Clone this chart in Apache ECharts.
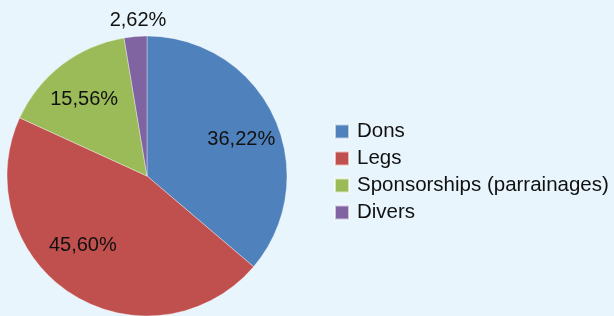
<!DOCTYPE html>
<html>
<head>
<meta charset="utf-8">
<script src="https://cdn.jsdelivr.net/npm/echarts@6/dist/echarts.min.js"></script>
<style>
html,body{margin:0;padding:0;background:#E9F5FC;}
#c{width:614px;height:316px;}
</style>
</head>
<body>
<div id="c"></div>
<script>
var categories = ['Dons', 'Legs', 'Sponsorships (parrainages)', 'Divers'];
var values = [36.22, 45.60, 15.56, 2.62];
var colors = ['#4F81BD', '#C0504D', '#9BBB59', '#8064A2'];
var labelShift = [[28, -6], [-25, 8], [-18.5, -19], [-3, -83]];

var chart = echarts.init(document.getElementById('c'), null, {renderer: 'canvas'});
chart.setOption({
  backgroundColor: '#E9F5FC',
  animation: false,
  color: colors,
  legend: {
    orient: 'vertical',
    left: 329,
    top: 116,
    icon: 'rect',
    itemWidth: 14,
    itemHeight: 14,
    itemGap: 6,
    data: categories,
    textStyle: {
      fontFamily: 'Liberation Sans',
      fontSize: 20.5,
      lineHeight: 20,
      color: '#111',
      padding: [0, 0, 0, 3]
    }
  },
  series: [{
    type: 'pie',
    center: [147, 176],
    radius: 140,
    startAngle: 90,
    clockwise: true,
    avoidLabelOverlap: false,
    itemStyle: {borderColor: 'rgba(255,255,255,0.6)', borderWidth: 0.6},
    label: {
      show: true,
      position: 'inside',
      fontFamily: 'Liberation Sans',
      fontSize: 20,
      color: '#111',
      formatter: function (p) { return p.value.toFixed(2).replace('.', ',') + '%'; }
    },
    labelLine: {show: false},
    labelLayout: function (p) {
      var s = labelShift[p.dataIndex];
      return {dx: s[0], dy: s[1]};
    },
    emphasis: {disabled: true},
    data: categories.map(function (c, i) { return {name: c, value: values[i]}; })
  }]
});
</script>
</body>
</html>
